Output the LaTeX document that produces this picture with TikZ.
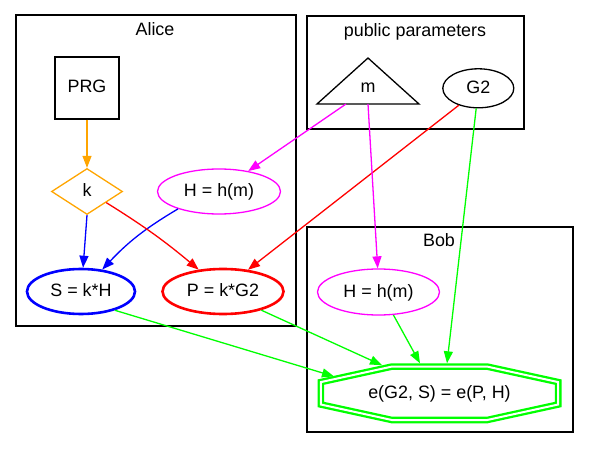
\documentclass[tikz,border=0pt]{standalone}
\usepackage{fontspec}
\setmainfont{Liberation Sans}
\usetikzlibrary{arrows.meta,shapes.geometric,calc}
\definecolor{gvorange}{HTML}{FFA500}
\definecolor{gvblue}{HTML}{0000FF}
\definecolor{gvred}{HTML}{FF0000}
\definecolor{gvmag}{HTML}{FF00FF}
\definecolor{gvgreen}{HTML}{00FF00}
\begin{document}
\begin{tikzpicture}[x=1pt,y=-1pt,
  every node/.style={font=\fontsize{17.9}{20}\selectfont, inner sep=0pt},
  gvnode/.style={draw, line width=1.3pt, text height=13pt, text depth=3pt, align=center},
  thicknode/.style={gvnode, line width=2.6pt},
  clusterbox/.style={draw, line width=1.3pt},
  clusterlabel/.style={anchor=base},
  edgeline/.style={line width=1.3pt, -{Triangle[length=12pt,width=9pt]}},
]
\useasboundingbox (0,0) rectangle (589,449);

% clusters
\draw[clusterbox] (16,15) rectangle (296,326);
\node[clusterlabel] (alicelbl) at (155,36) {Alice};
\draw[clusterbox] (307,16) rectangle (524,129);
\node[clusterlabel] (publbl) at (415,36.5) {public parameters};
\draw[clusterbox] (307,227) rectangle (573,432);
\node[clusterlabel] (boblbl) at (439,247) {Bob};

% nodes
\node[gvnode, rectangle, minimum width=64pt, minimum height=62pt] (PRG) at (87,88) {PRG};
\node[gvnode, diamond, draw=gvorange, minimum width=71pt, minimum height=46pt] (k) at (87,191.5) {k};
\node[gvnode, ellipse, draw=gvmag, minimum width=123pt, minimum height=45pt] (Ha) at (219,191.5) {H = h(m)};
\node[thicknode, ellipse, draw=gvblue, minimum width=108pt, minimum height=45pt] (S) at (81,291.5) {S = k*H};
\node[thicknode, ellipse, draw=gvred, minimum width=121pt, minimum height=45pt] (P) at (223,291.5) {P = k*G2};

\node[gvnode, draw=none, outer sep=0pt] (m) at (368,88) {m};
\draw[line width=1.3pt, line join=miter] ($(m.center)+(0,-30)$) -- ($(m.center)+(51,16)$) -- ($(m.center)+(-51,16)$) -- cycle;
\node[gvnode, ellipse, minimum width=71pt, minimum height=39pt] (G2) at (478.3,88.3) {G2};

\node[gvnode, ellipse, draw=gvmag, minimum width=122pt, minimum height=46pt] (Hb) at (378.5,292) {H = h(m)};
\node[gvnode, draw=none, outer sep=0pt, minimum width=237.4pt, minimum height=53.4pt] (oct) at (439.5,393.3) {e(G2, S) = e(P, H)};
\draw[gvgreen, line width=2.3pt, double=white, double distance=2pt]
  ($(oct.north west)+(71,0)$) -- ($(oct.north east)+(-71,0)$) --
  ($(oct.north east)+(0,15.5)$) -- ($(oct.south east)+(0,-15.5)$) --
  ($(oct.south east)+(-71,0)$) -- ($(oct.south west)+(71,0)$) --
  ($(oct.south west)+(0,-15.5)$) -- ($(oct.north west)+(0,15.5)$) -- cycle;

% edges
\draw[edgeline, gvorange] (PRG.south) -- (k.north);
\draw[edgeline, gvblue] (k.south) -- (S.85);
\draw[edgeline, gvblue] (Ha.203) to[bend right=8] (S.46);
\draw[edgeline, gvred] (k.-30) to[bend left=4] (P.138);
\draw[edgeline, gvred] (G2.-139) -- (P.41);
\draw[edgeline, gvmag] ($(m.center)+(-22,16)$) -- (Ha.35);
\draw[edgeline, gvmag] ($(m.center)+(0,16)$) -- (Hb.92);
\draw[edgeline, gvgreen] (G2.-96) -- ($(oct.center)+(7.5,-30)$);
\draw[edgeline, gvgreen] (Hb.-57) -- ($(oct.center)+(-19.5,-30)$);
\draw[edgeline, gvgreen] (P.-26) -- ($(oct.center)+(-57.5,-28.1)$);
\draw[edgeline, gvgreen] (S.-29.5) -- ($(oct.center)+(-105.5,-16.9)$);
\end{tikzpicture}
\end{document}
